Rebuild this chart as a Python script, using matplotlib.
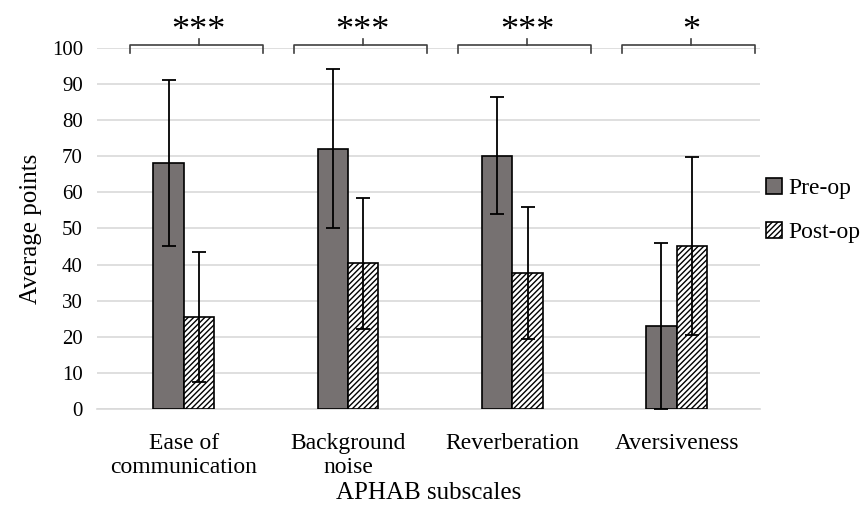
import matplotlib.pyplot as plt
import numpy as np

categories = ["Ease of\ncommunication", "Background\nnoise", "Reverberation", "Aversiveness"]
pre_op = [68.2, 72.1, 70.2, 23.0]
pre_sd = [23.0, 22.0, 16.2, 23.0]
post_op = [25.5, 40.3, 37.7, 45.2]
post_sd = [18.0, 18.1, 18.3, 24.7]
stars = ["***", "***", "***", "*"]

plt.rcParams['font.family'] = ['Liberation Serif', 'DejaVu Serif']
plt.rcParams['hatch.color'] = '#8c8c8c'
plt.rcParams['hatch.linewidth'] = 1.0

fig = plt.figure(figsize=(8.64, 5.08), dpi=100)
ax = fig.add_axes([0.112, 0.195, 0.768, 0.7105])

x = np.arange(len(categories))
w = 0.185
err_kw = dict(ecolor='black', elinewidth=1.3, capsize=5, capthick=1.3)
ax.bar(x - w/2, pre_op, w, yerr=pre_sd, color='#767171', edgecolor='black',
       linewidth=1.2, label='Pre-op', error_kw=err_kw, zorder=3)
ax.bar(x + w/2, post_op, w, yerr=post_sd, color='white', edgecolor='black',
       hatch='//////', linewidth=1.2, label='Post-op', error_kw=err_kw, zorder=3)

ax.set_ylim(0, 100)
ax.set_xlim(-0.53, 3.51)
ax.set_yticks(range(0, 101, 10))
ax.set_xticks(x)
ax.set_xticklabels(categories, fontsize=17, linespacing=1.2)
ax.tick_params(axis='y', labelsize=15, length=0, pad=10)
ax.tick_params(axis='x', length=0, pad=17)
ax.grid(axis='y', color='#d9d9d9', linewidth=1.2, zorder=0)
for s in ['top', 'right', 'left']:
    ax.spines[s].set_visible(False)
ax.spines['bottom'].set_color('#d9d9d9')
ax.spines['bottom'].set_linewidth(1.2)

ax.set_ylabel('Average points', fontsize=18, labelpad=7)
ax.set_xlabel('APHAB subscales', fontsize=18, labelpad=3)

# significance brackets
for i, s in enumerate(stars):
    x0, x1 = i - 0.33, i + 0.48
    xm = i + 0.09
    yb = 100.8
    ax.plot([x0, x0, x1, x1], [yb - 2.2, yb, yb, yb - 2.2], color='#404040',
            linewidth=1.2, clip_on=False, zorder=4)
    ax.plot([xm, xm], [yb, yb + 1.8], color='#404040', linewidth=1.2, clip_on=False)
    ax.text(xm, yb - 0.8, s, ha='center', va='bottom', fontsize=26,
            clip_on=False)

ax.legend(loc='center left', bbox_to_anchor=(1.008, 0.55), frameon=False,
          fontsize=17, handlelength=0.7, handleheight=0.7, handletextpad=0.25,
          labelspacing=0.95, borderpad=0, borderaxespad=0)

fig.savefig('out.png', dpi=100)
